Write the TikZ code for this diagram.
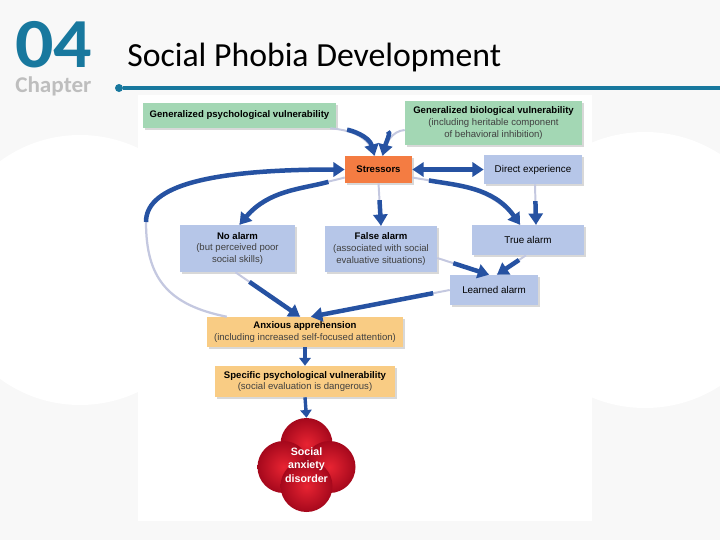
\documentclass[tikz,border=0pt]{standalone}
\usepackage{fontspec}
\setmainfont{Liberation Sans}
\newfontfamily\titlefont{Carlito}
\usetikzlibrary{arrows.meta, shadows, calc}

\def\pxu{0.025cm}

\definecolor{chapteal}{RGB}{24,120,158}
\definecolor{chapgray}{RGB}{190,190,190}
\definecolor{bggray}{RGB}{248,248,248}
\definecolor{vulngreen}{RGB}{163,215,180}
\definecolor{stressorange}{RGB}{244,124,66}
\definecolor{alarmblue}{RGB}{182,198,232}
\definecolor{apprehtan}{RGB}{249,204,132}
\definecolor{flowblue}{RGB}{38,82,162}
\definecolor{flowlight}{RGB}{196,200,224}
\definecolor{sadinner}{RGB}{232,36,50}
\definecolor{sadouter}{RGB}{165,8,28}

\begin{document}
\begin{tikzpicture}[
        x=\pxu, y=\pxu,
        % Boxes: flat colour with a soft shadow
        box/.style={
                fill=#1, inner sep=1pt, align=center,
                font=\fontsize{6.8}{8.2}\selectfont,
                drop shadow={shadow xshift=1.5pt, shadow yshift=-1.5pt, opacity=0.3}
            },
        % Arrow style: light tail, dark head
        flowbase/.style={draw=flowblue, line width=3.2pt, -{Triangle[width=10pt,length=8pt]}},
        flow/.style={flowbase, shorten <=12pt,
                preaction={draw=flowlight, line width=1.4pt, arrows=-, shorten <=0pt}},
        smallflow/.style={flowbase, line width=2.4pt, -{Triangle[width=8pt,length=5.5pt]}},
        lobe/.style={inner color=sadinner, outer color=sadouter}
    ]
    \useasboundingbox (0,0) rectangle (720,-540);

    %% ---- Background ----
    \fill[bggray] (0,0) rectangle (720,-540);
    \fill[white] (80,-270) circle (135*\pxu);
    \fill[white] (645,-270) circle (138*\pxu);
    \fill[white] (138,-95) rectangle (592,-521);

    %% ---- Header ----
    \node[anchor=base west, inner sep=0, xscale=1.08, text=chapteal,
        font=\titlefont\bfseries\fontsize{50}{50}\selectfont] (num) at (15,-67) {04};
    \node[anchor=base west, inner sep=0, xscale=1.03, text=chapgray,
        font=\titlefont\bfseries\fontsize{16}{16}\selectfont] (chap) at (15,-92) {Chapter};
    \node[anchor=base west, inner sep=0,
        font=\titlefont\fontsize{24}{28}\selectfont] (title) at (127,-66) {Social Phobia Development};
    \node[circle, fill=chapteal, inner sep=0, minimum size=8*\pxu] (dot) at (119,-88) {};
    \coordinate (ruleend) at (720,-88);
    \draw[chapteal, line width=2.2pt] (dot) -- (ruleend);

    %% ---- Vulnerabilities and stressors ----
    \node[box=vulngreen, minimum width=193*\pxu, minimum height=25*\pxu] (gpv) at (239.5,-115.5)
    {\bfseries Generalized psychological vulnerability};
    \node[box=vulngreen, minimum width=177*\pxu, minimum height=44*\pxu] (gbv) at (493.5,-123)
    {\bfseries Generalized biological vulnerability\\
        \textcolor{black!75}{(including heritable component}\\
        \textcolor{black!75}{of behavioral inhibition)}};
    \node[box=stressorange, minimum width=67*\pxu, minimum height=27*\pxu] (str) at (378.5,-169.5)
    {\bfseries Stressors};
    \node[box=alarmblue, minimum width=98*\pxu, minimum height=29*\pxu,
        font=\fontsize{7}{8.4}\selectfont] (dex) at (533,-169.5) {Direct experience};

    %% ---- Alarms ----
    \node[box=alarmblue, minimum width=115*\pxu, minimum height=47*\pxu] (noa) at (237.5,-248.5)
    {\bfseries No alarm\\
        \textcolor{black!75}{(but perceived poor}\\
        \textcolor{black!75}{social skills)}};
    \node[box=alarmblue, minimum width=112*\pxu, minimum height=46*\pxu] (fal) at (381,-249)
    {\bfseries False alarm\\
        \textcolor{black!75}{(associated with social}\\
        \textcolor{black!75}{evaluative situations)}};
    \node[box=alarmblue, minimum width=112*\pxu, minimum height=30*\pxu,
        font=\fontsize{7}{8.4}\selectfont] (tru) at (528,-240) {True alarm};
    \node[box=alarmblue, minimum width=88*\pxu, minimum height=30*\pxu,
        font=\fontsize{7}{8.4}\selectfont] (lea) at (494,-290) {Learned alarm};

    %% ---- Apprehension and specific vulnerability ----
    \node[box=apprehtan, minimum width=196*\pxu, minimum height=30*\pxu] (anx) at (305,-332)
    {\bfseries Anxious apprehension\\
        \textcolor{black!75}{(including increased self-focused attention)}};
    \node[box=apprehtan, minimum width=180*\pxu, minimum height=31*\pxu] (spv) at (305,-381.5)
    {\bfseries Specific psychological vulnerability\\
        \textcolor{black!75}{(social evaluation is dangerous)}};

    %% ---- Social anxiety disorder (red cloud) ----
    \coordinate (sadc) at (306.5,-465);
    \foreach \dx/\dy in {0/21, -23/-2, 23/-2, 0/-21}
    \shade[lobe] ($(sadc)+(\dx,\dy)$) circle (26*\pxu);
    \node[circle, minimum size=94*\pxu, inner sep=0, align=center, text=white,
        font=\bfseries\fontsize{7.6}{9.4}\selectfont] (sad) at (sadc) {Social\\anxiety\\disorder};

    %% ---- Arrows into stressors ----
    \draw[flow] ([xshift=-6*\pxu]gpv.south east) to[out=-5, in=105] ([xshift=-4*\pxu]str.north);
    \draw[flow] ([yshift=-7*\pxu]gbv.west) to[out=185, in=75] ([xshift=4*\pxu]str.north);
    % feedback loop: light tail, dark top run
    \coordinate (loopleft) at (146,-222);
    \draw[flowlight, line width=1.6pt] ([xshift=20*\pxu]anx.north west)
    .. controls +(-60,12) and +(0,-55) .. (loopleft);
    \draw[flowbase] (loopleft) .. controls +(0,32) and +(-150,0) .. (str.west);
    \draw[flowbase, {Triangle[width=10pt,length=8pt]}-{Triangle[width=10pt,length=8pt]}]
    (str.east) -- (dex.west);

    %% ---- Arrows out of stressors ----
    \draw[flow] ([yshift=-8*\pxu]str.west) to[out=195, in=50] ([xshift=2*\pxu]noa.north);
    \draw[flow] (str.south) -- (fal.north);
    \draw[flow] ([yshift=-8*\pxu]str.east) to[out=-10, in=125] ([xshift=-8*\pxu]tru.north);
    \draw[flow] ([xshift=2*\pxu]dex.south) -- ([xshift=8*\pxu]tru.north);

    %% ---- Towards learned alarm and apprehension ----
    \draw[flow, shorten <=6pt] ([xshift=-2*\pxu]tru.south) -- ([xshift=3*\pxu]lea.north);
    \draw[flow] ([yshift=-9*\pxu]fal.east) -- ([xshift=-5*\pxu]lea.north);
    \draw[flow] ([xshift=-2*\pxu]noa.south) -- ([xshift=-5*\pxu]anx.north);
    \draw[flow] (lea.west) -- ([xshift=6*\pxu]anx.north);

    %% ---- Down to the disorder ----
    \draw[smallflow] (anx.south) -- (spv.north);
    \draw[smallflow] (spv.south) -- (sad.north);

\end{tikzpicture}
\end{document}
